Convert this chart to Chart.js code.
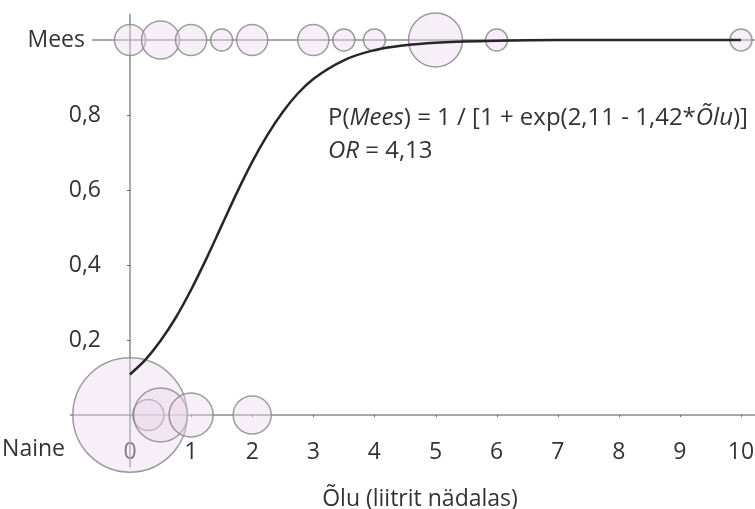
<!DOCTYPE html>
<html>
<head>
<meta charset="utf-8">
<script src="https://cdn.jsdelivr.net/npm/chart.js@4"></script>
<style>
  body { margin: 0; background: #fff; overflow: hidden; }
  canvas { display: block; }
</style>
</head>
<body>
<canvas id="beerChart" width="755" height="509"></canvas>
<script>
// --- Data ---
// Men (Mees): beer per week and number of people at that value
const menBeer = [0, 0.5, 1, 1.5, 2, 3, 3.5, 4, 5, 6, 10];
const menCount = [2, 3, 2, 1, 2, 2, 1, 1, 6, 1, 1];

// Women (Naine)
const womenBeer = [0, 0.3, 0.5, 1, 2];
const womenCount = [27, 2, 6, 4, 3];

// Fitted logistic curve
const curveBeer = [0, 0.25, 0.5, 0.75, 1, 1.25, 1.5, 1.75, 2, 2.25, 2.5, 2.75, 3, 3.5, 4, 4.5, 5, 6, 7, 8, 9, 10];
const curveP = [0.108, 0.147, 0.198, 0.260, 0.334, 0.417, 0.505, 0.593, 0.675, 0.747, 0.808, 0.858, 0.896, 0.946, 0.973, 0.986, 0.993, 0.998, 1.00, 1.00, 1.00, 1.00];

// Tick labels
const xTicks = [0, 1, 2, 3, 4, 5, 6, 7, 8, 9, 10];
const yTicks = [0.2, 0.4, 0.6, 0.8];
const yTop = 'Mees';
const yBottom = 'Naine';
const xTitle = 'Õlu (liitrit nädalas)';

const FONT = '"Open Sans", "DejaVu Sans", sans-serif';
const TEXT_COLOR = '#333';
const LINE_COLOR = '#8c8c8c';
const BUBBLE_K = 11; // radius (px) for one person, area grows with count

function bubblePoints(xs, counts, yValue) {
    return xs.map((x, i) => ({ x: x, y: yValue, r: BUBBLE_K * Math.sqrt(counts[i]) }));
}

// draws the axis lines, y labels and the formula box
const decorPlugin = {
    id: 'decor',
    beforeDatasetsDraw(chart) {
        const ctx = chart.ctx;
        const xs = chart.scales.x, ys = chart.scales.y;
        const x0 = xs.getPixelForValue(0);
        const yMen = ys.getPixelForValue(1);
        const yWomen = ys.getPixelForValue(0);

        ctx.save();
        ctx.strokeStyle = LINE_COLOR;
        ctx.lineWidth = 1.5;
        ctx.beginPath();
        ctx.moveTo(x0 - 38, yMen); ctx.lineTo(chart.width, yMen);
        ctx.moveTo(x0 - 60, yWomen); ctx.lineTo(chart.width, yWomen);
        ctx.moveTo(x0, ys.getPixelForValue(1.07)); ctx.lineTo(x0, ys.getPixelForValue(-0.14));
        ctx.stroke();

        // small tick marks
        ctx.strokeStyle = '#666';
        ctx.lineWidth = 1;
        ctx.beginPath();
        yTicks.forEach(v => {
            const py = Math.round(ys.getPixelForValue(v)) + 0.5;
            ctx.moveTo(x0 - 3, py); ctx.lineTo(x0, py);
        });
        xTicks.forEach(v => {
            const px = Math.round(xs.getPixelForValue(v)) + 0.5;
            ctx.moveTo(px, yWomen); ctx.lineTo(px, yWomen + 2);
        });
        ctx.stroke();
        ctx.restore();
    },
    afterDraw(chart) {
        const ctx = chart.ctx;
        const xs = chart.scales.x, ys = chart.scales.y;
        const x0 = xs.getPixelForValue(0);

        ctx.save();
        ctx.fillStyle = TEXT_COLOR;
        ctx.textBaseline = 'middle';
        ctx.textAlign = 'right';
        ctx.font = '23px ' + FONT;
        yTicks.forEach(v => {
            ctx.fillText(v.toFixed(1).replace('.', ','), x0 - 29, ys.getPixelForValue(v));
        });
        ctx.fillText(yTop, x0 - 45, ys.getPixelForValue(1));
        ctx.fillText(yBottom, x0 - 65, ys.getPixelForValue(0) + 34);

        // formula text, parts in italics
        ctx.textAlign = 'left';
        const lines = [
            [['P(', false], ['Mees', true], [') = 1 / [1 + exp(2,11 - 1,42*', false], ['Õlu', true], [')]', false]],
            [['OR', true], [' = 4,13', false]]
        ];
        const lineY = [0.792, 0.704];
        lines.forEach((parts, li) => {
            let px = xs.getPixelForValue(3.24);
            const py = ys.getPixelForValue(lineY[li]);
            parts.forEach(([txt, italic]) => {
                ctx.font = (italic ? 'italic ' : '') + '24px ' + FONT;
                ctx.fillText(txt, px, py);
                px += ctx.measureText(txt).width;
            });
        });
        ctx.restore();
    }
};

const ctx = document.getElementById('beerChart');
const beerChart = new Chart(ctx, {
    type: 'bubble',
    data: {
        datasets: [
            {
                type: 'line',
                label: 'P(Mees)',
                data: curveBeer.map((x, i) => ({ x: x, y: curveP[i] })),
                borderColor: '#262626',
                borderWidth: 2.5,
                pointRadius: 0,
                cubicInterpolationMode: 'monotone',
                fill: false,
                clip: false,
                order: 0
            },
            {
                label: 'Mees',
                data: bubblePoints(menBeer, menCount, 1),
                backgroundColor: 'rgba(236, 218, 236, 0.42)',
                borderColor: 'rgba(140, 140, 140, 0.85)',
                borderWidth: 1.5,
                clip: false,
                order: 1
            },
            {
                label: 'Naine',
                data: bubblePoints(womenBeer, womenCount, 0),
                backgroundColor: 'rgba(236, 218, 236, 0.42)',
                borderColor: 'rgba(140, 140, 140, 0.85)',
                borderWidth: 1.5,
                clip: false,
                order: 1
            }
        ]
    },
    options: {
        responsive: false,
        devicePixelRatio: 1,
        animation: false,
        events: [],
        layout: { padding: { left: 85, right: 0, top: 0, bottom: 0 }, autoPadding: false },
        plugins: {
            legend: { display: false },
            tooltip: { enabled: false }
        },
        scales: {
            x: {
                type: 'linear',
                min: -0.7365,
                max: 10.229,
                afterBuildTicks: scale => { scale.ticks = xTicks.map(v => ({ value: v })); },
                afterFit: scale => {
                    scale.height = 84;
                    // no extra room for the edge labels
                    scale.paddingLeft = 0;
                    scale.paddingRight = 0;
                },
                grid: { display: false, drawTicks: false },
                border: { display: false },
                ticks: {
                    padding: 14,
                    color: TEXT_COLOR,
                    font: { family: FONT, size: 23 },
                    maxRotation: 0,
                    callback: value => String(value)
                },
                title: {
                    display: true,
                    text: xTitle,
                    color: TEXT_COLOR,
                    font: { family: FONT, size: 23, lineHeight: 0.8 },
                    padding: 0
                }
            },
            y: {
                type: 'linear',
                display: false,
                min: -0.0267,
                max: 1.1067
            }
        }
    },
    plugins: [decorPlugin]
});
</script>
</body>
</html>
